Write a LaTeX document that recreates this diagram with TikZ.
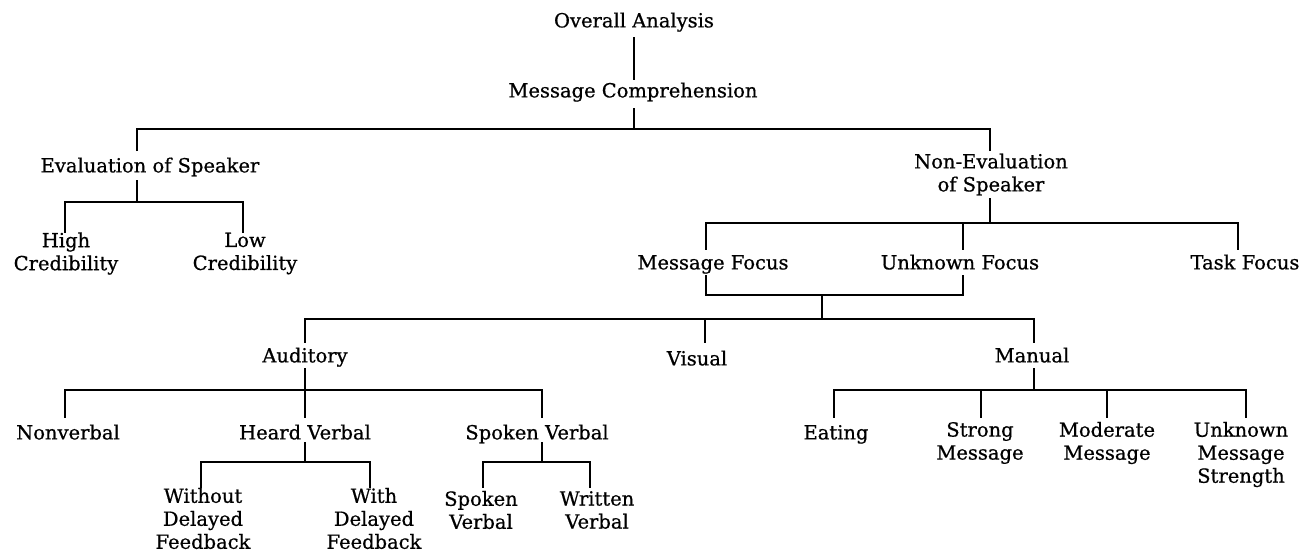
\documentclass[tikz,border=0pt]{standalone}
\usepackage{fontspec}
\newfontfamily\lbf[FakeBold=0.7]{DejaVu Serif}
\begin{document}
\begin{tikzpicture}[x=1pt,y=-1pt,
  lbl/.style={inner sep=0pt, align=center, font={\lbf\fontsize{19.5}{23}\selectfont}},
  one/.style={lbl, text height=14.8pt, text depth=0pt},
  conn/.style={line width=1.4pt, draw=black}]
\useasboundingbox (0,0) rectangle (1302,552);
% nodes
\node[one] (oa) at (634,20) {Overall Analysis};
\node[one] (mc) at (633,90) {Message Comprehension};
\node[one] (es) at (150,165) {Evaluation of Speaker};
\node[lbl] (ne) at (991,174.5) {Non-Evaluation\\of Speaker};
\node[lbl] (hc) at (66,253.5) {High\\Credibility};
\node[lbl] (lc) at (245,253.5) {Low\\Credibility};
\node[one] (mf) at (713,262) {Message Focus};
\node[one] (uf) at (960,262) {Unknown Focus};
\node[one] (tf) at (1245,262) {Task Focus};
\node[one] (au) at (305,355) {Auditory};
\node[one] (vi) at (697,358) {Visual};
\node[one] (ma) at (1032,355) {Manual};
\node[one] (nv) at (68,432) {Nonverbal};
\node[one] (hv) at (305,432) {Heard Verbal};
\node[one] (sv) at (537,432) {Spoken Verbal};
\node[one] (ea) at (836,432) {Eating};
\node[lbl] (sm) at (980,443) {Strong\\Message};
\node[lbl] (mm) at (1107,443) {Moderate\\Message};
\node[lbl] (um) at (1241,454.5) {Unknown\\Message\\Strength};
\node[lbl] (wo) at (203,518.5) {Without\\Delayed\\Feedback};
\node[lbl] (wi) at (374,518.5) {With\\Delayed\\Feedback};
\node[lbl] (sp) at (481,510) {Spoken\\Verbal};
\node[lbl] (wr) at (597,510) {Written\\Verbal};
% bar levels
\coordinate (b1) at (0,129);
\coordinate (b2) at (0,202);
\coordinate (b3) at (0,223);
\coordinate (mj) at (822,295);
\coordinate (b5) at (0,319);
\coordinate (b6) at (0,390);
\coordinate (b7) at (0,462);
% connectors
\draw[conn] ([yshift=-17pt]oa.center) -- ([xshift=1pt,yshift=10pt]mc.center);
\draw[conn] ([xshift=1pt,yshift=-18pt]mc.center) |- (b1 -| es.center);
\draw[conn] ([xshift=1pt,yshift=-18pt]mc.center) |- (b1 -| ne.center);
\draw[conn] ([xshift=-13pt,yshift=14pt]es.center) -- ([xshift=-13pt]es.center |- b1) -- (b1 -| mc.center);
\draw[conn] ([xshift=-1pt,yshift=23.5pt]ne.center) -- ([xshift=-1pt]ne.center |- b1) -- (b1 -| mc.center);
% evaluation
\draw[conn] ([xshift=-13pt,yshift=-15pt]es.center) |- ([xshift=-1pt]hc.center |- b2) -- ([xshift=-1pt,yshift=20.5pt]hc.center);
\draw[conn] ([xshift=-13pt,yshift=-15pt]es.center) |- ([xshift=-2pt]lc.center |- b2) -- ([xshift=-2pt,yshift=20.5pt]lc.center);
% non-evaluation
\draw[conn] ([xshift=-1pt,yshift=-23.5pt]ne.center) |- ([xshift=-7pt]mf.center |- b3) -- ([xshift=-7pt,yshift=12pt]mf.center);
\draw[conn] ([xshift=-1pt,yshift=-23.5pt]ne.center) |- ([xshift=3pt]uf.center |- b3) -- ([xshift=3pt,yshift=12pt]uf.center);
\draw[conn] ([xshift=-1pt,yshift=-23.5pt]ne.center) |- ([xshift=-7pt]tf.center |- b3) -- ([xshift=-7pt,yshift=12pt]tf.center);
% focus join
\draw[conn] ([xshift=-7pt,yshift=-13pt]mf.center) |- (mj);
\draw[conn] ([xshift=3pt,yshift=-13pt]uf.center) |- (mj);
\draw[conn] (mj) |- (au.center |- b5) -- ([yshift=12pt]au.center);
\draw[conn] (mj) |- ([xshift=8pt]vi.center |- b5) -- ([xshift=8pt,yshift=15pt]vi.center);
\draw[conn] (mj) |- ([xshift=2pt]ma.center |- b5) -- ([xshift=2pt,yshift=12pt]ma.center);
% auditory
\draw[conn] ([yshift=-13pt]au.center) |- ([xshift=-3pt]nv.center |- b6) -- ([xshift=-3pt,yshift=14pt]nv.center);
\draw[conn] ([yshift=-13pt]au.center) -- ([yshift=14pt]hv.center);
\draw[conn] ([yshift=-13pt]au.center) |- ([xshift=5pt]sv.center |- b6) -- ([xshift=5pt,yshift=14pt]sv.center);
% manual
\draw[conn] ([xshift=2pt,yshift=-13pt]ma.center) |- ([xshift=-2pt]ea.center |- b6) -- ([xshift=-2pt,yshift=14pt]ea.center);
\draw[conn] ([xshift=2pt,yshift=-13pt]ma.center) |- ([xshift=1pt]sm.center |- b6) -- ([xshift=1pt,yshift=25pt]sm.center);
\draw[conn] ([xshift=2pt,yshift=-13pt]ma.center) |- (mm.center |- b6) -- ([yshift=25pt]mm.center);
\draw[conn] ([xshift=2pt,yshift=-13pt]ma.center) |- ([xshift=5pt]um.center |- b6) -- ([xshift=5pt,yshift=36.5pt]um.center);
% heard verbal
\draw[conn] ([yshift=-10pt]hv.center) |- ([xshift=-2pt]wo.center |- b7) -- ([xshift=-2pt,yshift=30.5pt]wo.center);
\draw[conn] ([yshift=-10pt]hv.center) |- ([xshift=-4pt]wi.center |- b7) -- ([xshift=-4pt,yshift=30.5pt]wi.center);
% spoken verbal
\draw[conn] ([xshift=5pt,yshift=-10pt]sv.center) |- ([xshift=2pt]sp.center |- b7) -- ([xshift=2pt,yshift=22pt]sp.center);
\draw[conn] ([xshift=5pt,yshift=-10pt]sv.center) |- ([xshift=-7pt]wr.center |- b7) -- ([xshift=-7pt,yshift=22pt]wr.center);
\end{tikzpicture}
\end{document}
